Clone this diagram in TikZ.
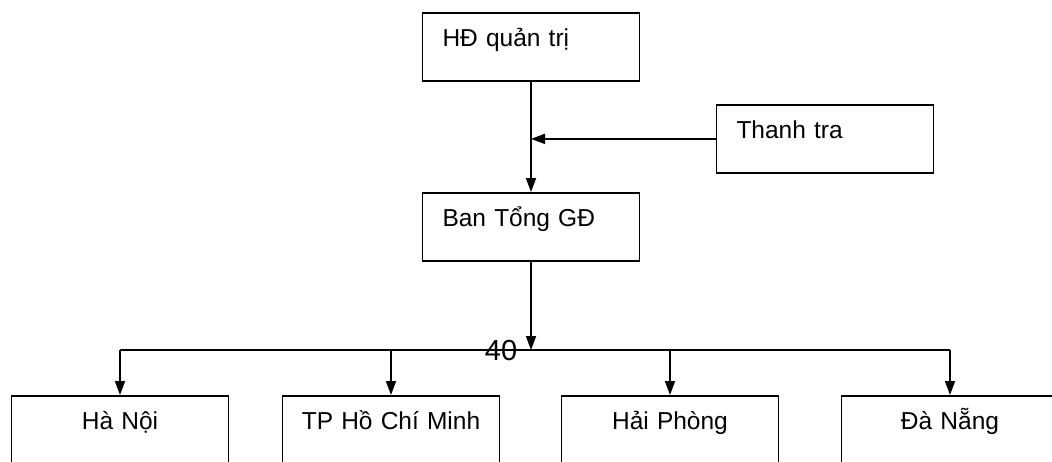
\documentclass[tikz,border=0pt]{standalone}
\usepackage{fontspec}
\setmainfont{Liberation Sans}
\usetikzlibrary{arrows.meta}

\begin{document}
\begin{tikzpicture}[x=1pt,y=-1pt,
  unit/.style={draw,line width=1.8pt,inner xsep=18pt,inner ysep=8pt,
    text height=26pt,text depth=26pt,text width=181pt,font=\fontsize{24.5}{30}\selectfont},
  topunit/.style={unit,align=left,anchor=north,inner xsep=20pt,text width=177pt},
  branch/.style={unit,align=center,anchor=north},
  link/.style={line width=1.8pt,-{Triangle[length=14pt,width=10pt]}}]
  \useasboundingbox (0,0) rectangle (1052,461);
  \clip (0,0) rectangle (1052,461);
  % board, inspection and management
  \node[topunit] (hdqt) at (531,12) {HĐ quản trị};
  \node[topunit] (bantgd) at (531,192) {Ban Tổng GĐ};
  \node[topunit] (thanhtra) at (825,104) {Thanh tra};
  % branches
  \node[branch] (hanoi) at (120,395) {Hà Nội};
  \node[branch] (tphcm) at (391,395) {TP Hồ Chí Minh};
  \node[branch] (haiphong) at (670,395) {Hải Phòng};
  \node[branch] (danang) at (950,395) {Đà Nẵng};
  \coordinate (merge) at (hdqt.south |- thanhtra.west);
  \coordinate (bus) at (531,350);
  \draw[link] (hdqt) -- (bantgd);
  \draw[link] (thanhtra.west) -- (merge);
  \draw[link] (bantgd) -- (bus);
  \draw[line width=1.8pt] (hanoi.north |- bus) -- (danang.north |- bus);
  \foreach \b in {hanoi,tphcm,haiphong,danang}
    \draw[link] (\b.north |- bus) -- (\b);
  \node[inner sep=0pt,font=\fontsize{29}{34}\selectfont] (num) at (501,351) {40};
\end{tikzpicture}
\end{document}
